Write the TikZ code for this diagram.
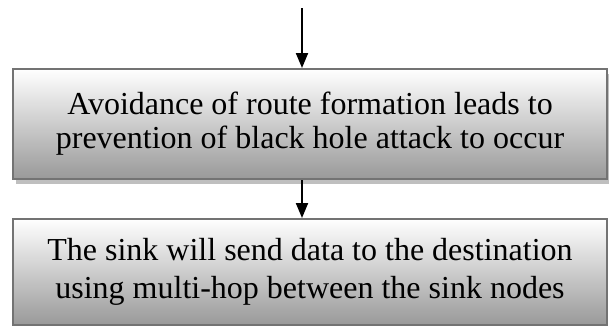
\documentclass[tikz,border=0pt]{standalone}
\usepackage{fontspec}
\setmainfont{Liberation Serif}
\usetikzlibrary{arrows.meta,shadows}

\tikzset{
    flowbox/.style={draw=black!55, line width=1pt,
        shading=axis, top color=white, middle color=gray!22, bottom color=gray!80,
        minimum width=297pt, inner sep=0pt, align=center,
        font=\fontsize{16}{17}\selectfont},
    flowarrow/.style={line width=1pt, -{Triangle[length=7.5pt,width=6pt]}}
}

\begin{document}
\begin{tikzpicture}[x=0.5pt,y=-0.5pt]
\useasboundingbox (0,0) rectangle (609,327);

% ============================================
% 1. BOXES
% ============================================
\node[flowbox, minimum height=55pt,
      drop shadow={shadow xshift=1.5pt, shadow yshift=-2.5pt, fill=gray!50, opacity=1}]
      (avoid) at (310,124)
      {Avoidance of route formation leads to\\prevention of black hole attack to occur};

\node[flowbox, minimum height=53pt, font=\fontsize{16}{19}\selectfont]
      (sink) at (310,272)
      {The sink will send data to the destination\\using multi-hop between the sink nodes};

% ============================================
% 2. ARROWS
% ============================================
\coordinate (start) at (302,8);
\draw[flowarrow] (start) -- (start |- avoid.north);
\draw[flowarrow] (start |- avoid.south) -- (start |- sink.north);

\end{tikzpicture}
\end{document}
